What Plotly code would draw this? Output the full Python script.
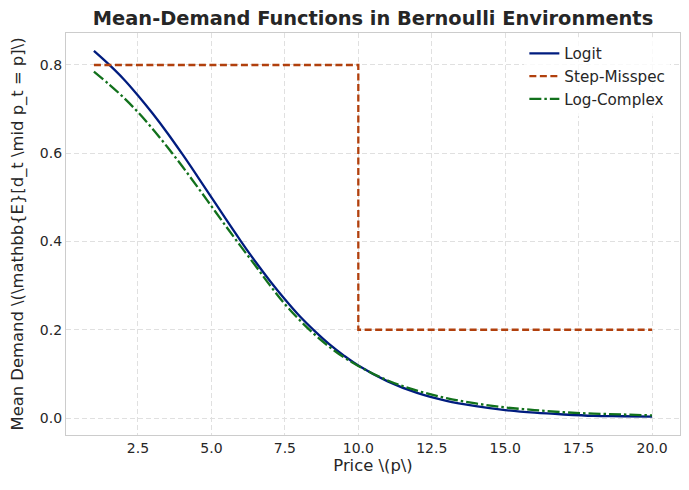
import plotly.graph_objects as go

price = [1, 1.5, 2, 2.5, 3, 3.5, 4, 4.5, 5, 5.5, 6, 6.5, 7, 7.5, 8, 8.5, 9, 9.5, 10,
         11, 12, 13, 14, 15, 16, 17, 18, 19, 20]
logit = [0.832, 0.802, 0.769, 0.731, 0.690, 0.646, 0.599, 0.550, 0.500, 0.450, 0.401,
         0.354, 0.310, 0.269, 0.231, 0.198, 0.168, 0.142, 0.119,
         0.083, 0.057, 0.039, 0.027, 0.018, 0.012, 0.008, 0.005, 0.004, 0.003]
log_complex = [0.785, 0.757, 0.727, 0.693, 0.655, 0.614, 0.571, 0.526, 0.480, 0.434, 0.389,
               0.345, 0.300, 0.258, 0.222, 0.190, 0.162, 0.138, 0.118,
               0.085, 0.062, 0.045, 0.033, 0.024, 0.018, 0.013, 0.010, 0.008, 0.006]
step_x = [1, 10, 10, 20]
step_y = [0.8, 0.8, 0.2, 0.2]

x_ticks = [2.5, 5.0, 7.5, 10.0, 12.5, 15.0, 17.5, 20.0]
y_ticks = [0.0, 0.2, 0.4, 0.6, 0.8]

FONT = "DejaVu Sans"
fig = go.Figure()
fig.add_trace(go.Scatter(x=price, y=logit, mode="lines", name="Logit",
                         line=dict(color="#001c7f", width=2.3, shape="spline", smoothing=1.0)))
fig.add_trace(go.Scatter(x=step_x, y=step_y, mode="lines", name="Step-Misspec",
                         line=dict(color="#b1400d", width=2.3, dash="7px,3.5px")))
fig.add_trace(go.Scatter(x=price, y=log_complex, mode="lines", name="Log-Complex",
                         line=dict(color="#12711c", width=2.3, dash="12px,3px,2.5px,3px",
                                   shape="spline", smoothing=1.0)))

axis_common = dict(showgrid=True, gridcolor="#e0e0e0", griddash="5px,3px", gridwidth=1,
                   showline=True, linecolor="#cccccc", linewidth=1.2, mirror=True,
                   zeroline=False, ticks="", automargin=False,
                   tickfont=dict(family=FONT, size=14, color="#262626"))

# page body has an 8px default margin: shrink the figure accordingly
fig.update_layout(
    width=681, height=482,
    margin=dict(l=58, r=9, t=25, b=55),
    paper_bgcolor="white", plot_bgcolor="white",
    title=dict(text="<b>Mean-Demand Functions in Bernoulli Environments</b>",
               x=0.5, xanchor="center", xref="paper", y=0.979, yanchor="middle",
               font=dict(family=FONT, size=19.4, color="#262626"), automargin=False),
    xaxis=dict(range=[0.05, 20.95], tickvals=x_ticks, ticktext=[f"{v:.1f}" for v in x_ticks],
               title=dict(text="Price \\(p\\)", font=dict(family=FONT, size=16.4, color="#262626"), standoff=4),
               **axis_common),
    yaxis=dict(range=[-0.0385, 0.8725], tickvals=y_ticks, ticktext=[f"{v:.1f}" for v in y_ticks],
               title=dict(text="Mean Demand \\(\\mathbb{E}[d_t \\mid p_t = p]\\)",
                          font=dict(family=FONT, size=16.4, color="#262626"), standoff=12),
               **axis_common),
    legend=dict(x=0.7465, y=0.99, xanchor="left", yanchor="top", bgcolor="rgba(255,255,255,0.8)",
                font=dict(family=FONT, size=15.2, color="#262626"), borderwidth=0,
                tracegroupgap=0, itemwidth=30),
    showlegend=True,
)

fig.write_html("out.html")
